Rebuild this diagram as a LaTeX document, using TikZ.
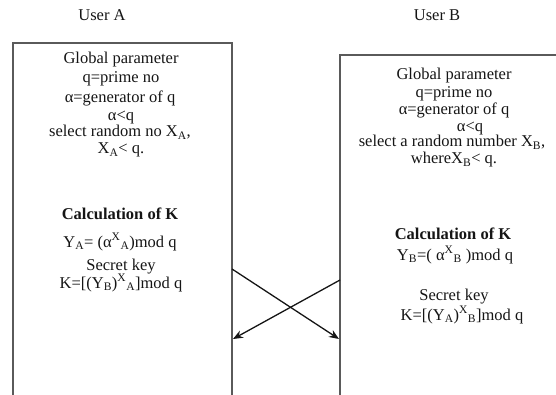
\documentclass[tikz,border=0pt]{standalone}
\usepackage{fontspec}
\setmainfont{Liberation Serif}
\usetikzlibrary{arrows.meta}
\definecolor{boxgray}{HTML}{5A5A5A}
\definecolor{ink}{HTML}{151515}
\tikzset{
  userbox/.style={draw=boxgray, line width=1.4pt},
  txt/.style={anchor=base, inner sep=0pt, text=ink, font=\fontsize{16.5}{18}\selectfont},
  bold/.style={txt, font=\fontsize{16.5}{18}\selectfont\bfseries},
  xarrow/.style={draw=ink, line width=1.3pt, -{Stealth[length=10pt,width=8pt]}}
}
\begin{document}
\begin{tikzpicture}[x=1pt,y=-1pt]
\useasboundingbox (0,0) rectangle (556,395);
% boxes
\draw[userbox] (13,43) rectangle (232,395.5);
\draw[userbox] (560,55) -- (340,55) -- (340,395.5) -- (560,395.5);
% titles
\node[txt] (ua) at (102,21) {User A};
\node[txt] (ub) at (437,21) {User B};
% box A text
\node[txt] (a1) at (121,64) {Global parameter};
\node[txt] (a2) at (121,83) {q=prime no};
\node[txt] (a3) at (120,103) {α=generator of q};
\node[txt] (a4) at (121,121) {α<q};
\node[txt] (a5) at (120,137) {select random no X\textsubscript{A},};
\node[txt] (a6) at (121,154) {X\textsubscript{A}< q.};
\node[bold] (a7) at (120,219) {Calculation of K};
\node[txt] (a8) at (120,247) {Y\textsubscript{A}= (α\textsuperscript{X}\textsubscript{A})mod q};
\node[txt] (a9) at (121,270) {Secret key};
\node[txt] (a10) at (121,288) {K=[(Y\textsubscript{B})\textsuperscript{X}\textsubscript{A}]mod q};
% box B text
\node[txt] (b1) at (454,80) {Global parameter};
\node[txt] (b2) at (454,98) {q=prime no};
\node[txt] (b3) at (454,115) {α=generator of q};
\node[txt] (b4) at (470,132) {α<q};
\node[txt] (b5) at (452,147) {select a random number X\textsubscript{B},};
\node[txt] (b6) at (454,164) {whereX\textsubscript{B}< q.};
\node[bold] (b7) at (453,239) {Calculation of K};
\node[txt] (b8) at (455,260) {Y\textsubscript{B}=( α\textsuperscript{X}\textsubscript{B} )mod q};
\node[txt] (b9) at (454,300) {Secret key};
\node[txt] (b10) at (462,320) {K=[(Y\textsubscript{A})\textsuperscript{X}\textsubscript{B}]mod q};
% arrow endpoints
\coordinate (s1) at (232,269);
\coordinate (e1) at (339,339);
\coordinate (s2) at (340,280);
\coordinate (e2) at (233,339);
\draw[xarrow] (s1) -- (e1);
\draw[xarrow] (s2) -- (e2);
\end{tikzpicture}
\end{document}
